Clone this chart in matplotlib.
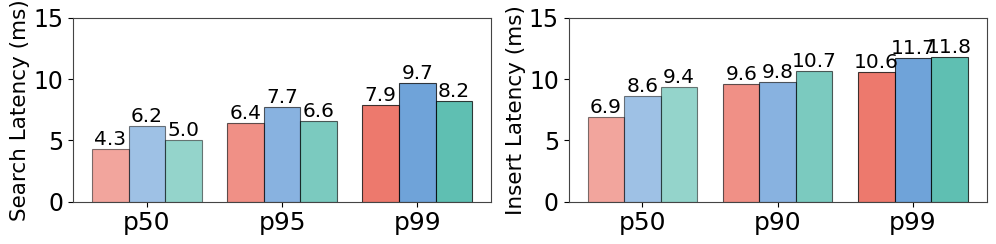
import matplotlib.pyplot as plt
import numpy as np

search_cats = ['p50', 'p95', 'p99']
insert_cats = ['p50', 'p90', 'p99']

# three systems per percentile group
search_vals = [[4.3, 6.4, 7.9],
               [6.2, 7.7, 9.7],
               [5.0, 6.6, 8.2]]
insert_vals = [[6.9, 9.6, 10.6],
               [8.6, 9.8, 11.7],
               [9.4, 10.7, 11.8]]

base_colors = ['#E74C3C', '#3F84CD', '#2AAA98']
group_alpha = [0.5, 0.62, 0.75]

fig = plt.figure(figsize=(9.96, 2.44), dpi=100)
ax1 = fig.add_axes([0.0733, 0.1734, 0.4197, 0.753])
ax2 = fig.add_axes([0.571, 0.1734, 0.4197, 0.753])

width = 0.27


def draw(ax, cats, vals, ylabel):
    x = np.arange(len(cats))
    for i, series in enumerate(vals):
        for j, v in enumerate(series):
            b = ax.bar(x[j] + (i - 1) * width, v, width,
                       color=base_colors[i], alpha=group_alpha[j],
                       edgecolor='black', linewidth=0.8)
            ax.bar_label(b, fmt='%.1f', fontsize=14.5, padding=0)
    ax.set_xticks(x)
    ax.set_xticklabels(cats, fontsize=18)
    ax.set_ylim(0, 15)
    ax.set_yticks([0, 5, 10, 15])
    ax.tick_params(axis='y', labelsize=17)
    ax.set_ylabel(ylabel, fontsize=15.5, labelpad=2)
    for s in ax.spines.values():
        s.set_color('#444444')


draw(ax1, search_cats, search_vals, 'Search Latency (ms)')
draw(ax2, insert_cats, insert_vals, 'Insert Latency (ms)')

plt.savefig('out.png', dpi=100)
